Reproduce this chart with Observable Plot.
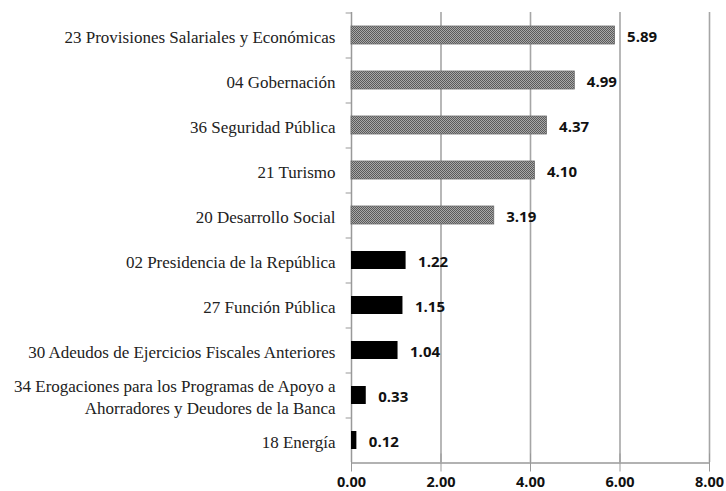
<!DOCTYPE html>
<html>
<head>
<meta charset="utf-8">
<script src="https://cdn.jsdelivr.net/npm/d3@7"></script>
<script src="https://cdn.jsdelivr.net/npm/@observablehq/plot@0.6"></script>
<style>
  body { margin: 0; background: #fff; }
  #chart svg { display: block; }
</style>
</head>
<body>
<div id="chart"></div>
<script>
const categories = [
  "23 Provisiones Salariales y Económicas",
  "04 Gobernación",
  "36 Seguridad Pública",
  "21 Turismo",
  "20 Desarrollo Social",
  "02 Presidencia de la República",
  "27 Función Pública",
  "30 Adeudos de Ejercicios Fiscales Anteriores",
  "34 Erogaciones para los Programas de Apoyo a\nAhorradores y Deudores de la Banca",
  "18 Energía"
];
const values = [5.89, 4.99, 4.37, 4.10, 3.19, 1.22, 1.15, 1.04, 0.33, 0.12];
const groups = ["alto", "alto", "alto", "alto", "alto", "bajo", "bajo", "bajo", "bajo", "bajo"];
const xTicks = [0, 2, 4, 6, 8];

const data = categories.map((c, i) => ({ category: c, value: values[i], group: groups[i] }));
const last = categories[categories.length - 1];

const chart = Plot.plot({
  width: 726,
  height: 491,
  marginLeft: 351,
  marginRight: 17,
  marginTop: 12,
  marginBottom: 29,
  style: { background: "#fff", overflow: "visible" },
  x: { domain: [0, 8], axis: null },
  y: { domain: categories, paddingInner: 0.6, paddingOuter: 0.3, axis: null },
  marks: [
    Plot.ruleX(xTicks.filter(d => d > 0), { stroke: "#a6a6a6", strokeWidth: 1.6 }),
    Plot.ruleX([0], { stroke: "#999", strokeWidth: 1.5 }),
    Plot.ruleY([0], { x1: 0, x2: 8, y: () => last, dy: 22.5, stroke: "#999", strokeWidth: 1.5 }),
    Plot.ruleY(categories, { y: d => d, x1: -0.12, x2: 0, dy: -22.5, stroke: "#999", strokeWidth: 1 }),
    Plot.tickX(xTicks, { x: d => d, y: () => last, dy: 22.5, stroke: "#999", strokeWidth: 1 }),
    Plot.barX(data.filter(d => d.group === "alto"), { x: "value", y: "category", fill: "url(#hatch)", stroke: "#6a6a6a", strokeWidth: 0.8 }),
    Plot.barX(data.filter(d => d.group === "bajo"), { x: "value", y: "category", fill: "#000" }),
    Plot.text(data, {
      x: "value", y: "category", text: d => d.value.toFixed(2), textAnchor: "start", dx: 12, dy: 2,
      fontFamily: "'Open Sans', sans-serif", fontWeight: "bold", fontSize: 15, fill: "#111"
    }),
    Plot.text(data, {
      x: 0, y: "category", text: "category", textAnchor: "end", dx: -16, lineHeight: 1.3,
      fontFamily: "'Liberation Serif', serif", fontSize: 17, fill: "#222"
    }),
    Plot.text(xTicks, {
      x: d => d, y: () => last, text: d => d.toFixed(2), dy: 42,
      fontFamily: "'Open Sans', sans-serif", fontWeight: "bold", fontSize: 14.5, fill: "#111"
    })
  ]
});

const svg = d3.select(chart);
const defs = svg.insert("defs", ":first-child");
const pat = defs.append("pattern")
  .attr("id", "hatch").attr("patternUnits", "userSpaceOnUse")
  .attr("width", 2).attr("height", 2);
pat.append("rect").attr("width", 2).attr("height", 2).attr("fill", "#a8a8a8");
pat.append("rect").attr("width", 1).attr("height", 1).attr("fill", "#5a5a5a");
pat.append("rect").attr("x", 1).attr("y", 1).attr("width", 1).attr("height", 1).attr("fill", "#5a5a5a");

document.getElementById("chart").appendChild(chart);
</script>
</body>
</html>
